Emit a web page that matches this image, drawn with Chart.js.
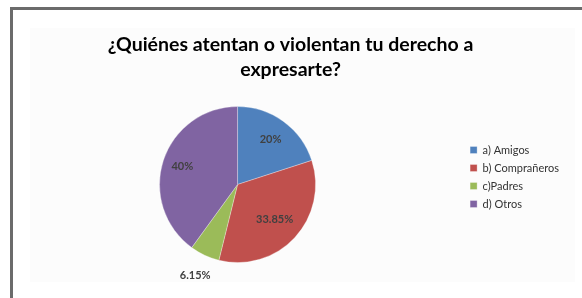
<!DOCTYPE html>
<html>
<head>
<meta charset="utf-8">
<script src="https://cdn.jsdelivr.net/npm/chart.js@4/dist/chart.umd.min.js"></script>
<style>
  html, body { margin: 0; padding: 0; background: #fff; overflow: hidden; }
  #wrap { position: relative; width: 582px; height: 298px; }
  #frame {
    position: absolute; left: 10px; top: 7px; width: 600px; height: 320px;
    border-top: 3px solid #6b6b6b; border-left: 3px solid #6b6b6b;
    box-sizing: border-box; pointer-events: none;
  }
  canvas { position: absolute; left: 0; top: 0; }
</style>
</head>
<body>
<div id="wrap">
  <canvas id="pieChart" width="582" height="298"></canvas>
  <div id="frame"></div>
</div>
<script>
// ========== DATA ==========
const categories = ['a) Amigos', 'b) Comprañeros', 'c)Padres', 'd) Otros'];
const percentages = [20, 33.85, 6.15, 40];
const valueLabels = ['20%', '33.85%', '6.15%', '40%'];
const sliceColors = ['#4f81bd', '#c0504d', '#9bbb59', '#8064a2'];
const chartTitle = ['¿Quiénes atentan o violentan tu derecho a', 'expresarte?'];

// light plot background like the office chart
const plotBackground = {
    id: 'plotBackground',
    beforeDraw(chart) {
        const ctx = chart.ctx;
        ctx.save();
        ctx.fillStyle = '#fcfcfc';
        ctx.fillRect(30, 28, 545, 254);
        ctx.restore();
    }
};

// move the legend block down next to the pie
const legendShift = {
    id: 'legendShift',
    afterLayout(chart) {
        const lg = chart.legend;
        if (!lg) return;
        lg.top += 46;
        lg.bottom += 46;
    }
};

// percentage labels on / beside the slices (distance as fraction of radius)
const labelRadius = [0.72, 0.65, 1.29, 0.745];
const sliceLabels = {
    id: 'sliceLabels',
    afterDatasetsDraw(chart) {
        const ctx = chart.ctx;
        const meta = chart.getDatasetMeta(0);
        ctx.save();
        ctx.font = 'bold 11px Lato, "Open Sans", sans-serif';
        ctx.fillStyle = '#404040';
        ctx.textAlign = 'center';
        ctx.textBaseline = 'middle';
        meta.data.forEach((arc, i) => {
            const p = arc.getProps(['x', 'y', 'startAngle', 'endAngle', 'outerRadius'], true);
            const mid = (p.startAngle + p.endAngle) / 2;
            const f = labelRadius[i];
            const x = p.x + Math.cos(mid) * p.outerRadius * f;
            const y = p.y + Math.sin(mid) * p.outerRadius * f;
            ctx.fillText(valueLabels[i], x, y);
        });
        ctx.restore();
    }
};

const ctx = document.getElementById('pieChart');
window.pieChart = new Chart(ctx, {
    type: 'pie',
    data: {
        labels: categories,
        datasets: [{
            data: percentages,
            backgroundColor: sliceColors,
            borderColor: 'rgba(255,255,255,0.6)',
            borderWidth: 0.5,
            radius: 78
        }]
    },
    options: {
        responsive: false,
        animation: false,
        layout: { padding: { left: 12, right: 13, top: 0, bottom: 36 } },
        plugins: {
            title: {
                display: true,
                text: chartTitle,
                color: '#000',
                font: { family: 'Lato, "Open Sans", sans-serif', size: 19.5, weight: 'bold', lineHeight: '25px' },
                padding: { top: 32, bottom: 25 }
            },
            legend: {
                position: 'right',
                labels: {
                    boxWidth: 7,
                    boxHeight: 7,
                    padding: 7,
                    color: '#333',
                    font: { family: 'Lato, "Open Sans", sans-serif', size: 11 }
                }
            },
            tooltip: { enabled: false }
        }
    },
    plugins: [plotBackground, legendShift, sliceLabels]
});
</script>
</body>
</html>
